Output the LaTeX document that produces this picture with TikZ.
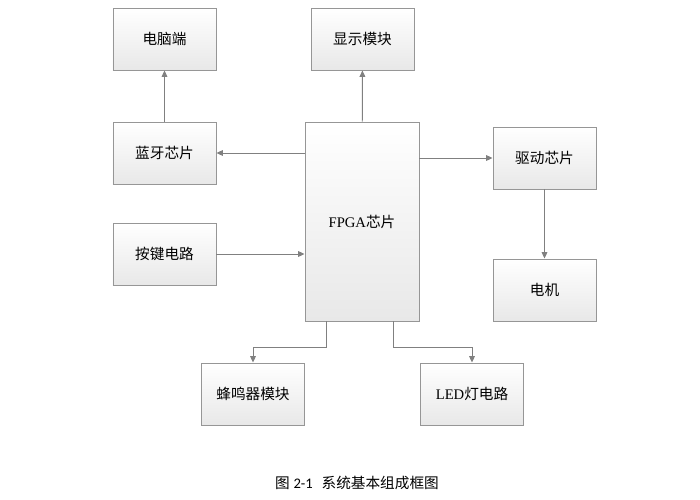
\documentclass[tikz,border=0pt]{standalone}
\usepackage{fontspec}
\setmainfont{Liberation Serif}
\newfontfamily\cjk{Noto Sans CJK SC}
\newfontfamily\calib{Carlito}
\usepackage{xcolor}
\usepackage{tikz}
\usetikzlibrary{arrows.meta, shadows}
\definecolor{linegray}{RGB}{128,128,128}
\definecolor{boxgray}{RGB}{150,150,150}
\definecolor{fillgray}{RGB}{232,232,232}

\begin{document}
\begin{tikzpicture}[
    x=0.03cm, y=-0.03cm,
    >={Triangle[length=1.9mm, width=1.7mm]},
    box/.style={draw=boxgray, line width=0.8pt, top color=white, bottom color=fillgray,
        minimum width=3.09cm, minimum height=1.86cm, font=\fontsize{12.5}{14}\selectfont\cjk,
        drop shadow={opacity=0.12, shadow xshift=0.7pt, shadow yshift=-0.7pt}},
    link/.style={->, draw=linegray, line width=0.8pt},
]
    \useasboundingbox (0,0) rectangle (700,499);

    \node[box] (pc) at (164.5,39) {电脑端};
    \node[box] (disp) at (362.5,39) {显示模块};
    \node[box] (bt) at (164.5,153) {蓝牙芯片};
    \node[box, minimum width=3.42cm, minimum height=5.97cm] (fpga) at (362,221.5) {{\rmfamily FPGA}芯片};
    \node[box] (drv) at (544.5,158) {驱动芯片};
    \node[box] (motor) at (544.5,290) {电机};
    \node[box] (key) at (164.5,254) {按键电路};
    \node[box] (buzz) at (253,394) {蜂鸣器模块};
    \node[box] (led) at (472,394) {{\rmfamily LED}灯电路};

    \draw[link] (bt) -- (pc);
    \draw[link] (fpga) -- (disp);
    \draw[link] (fpga.west |- bt.east) -- (bt.east);
    \draw[link] (key.east) -- (key.east -| fpga.west);
    \draw[link] (fpga.east |- drv.west) -- (drv.west);
    \draw[link] (drv) -- (motor);
    \draw[link] ([xshift=-1.08cm]fpga.south) -- ++(0,26) -| (buzz.north);
    \draw[link] ([xshift=0.93cm]fpga.south) -- ++(0,26) -| (led.north);

    \node[font=\fontsize{12.5}{14}\selectfont] (cap) at (357,483)
        {{\cjk 图} {\calib 2-1}\hspace{0.6em}{\cjk 系统基本组成框图}};
\end{tikzpicture}
\end{document}
